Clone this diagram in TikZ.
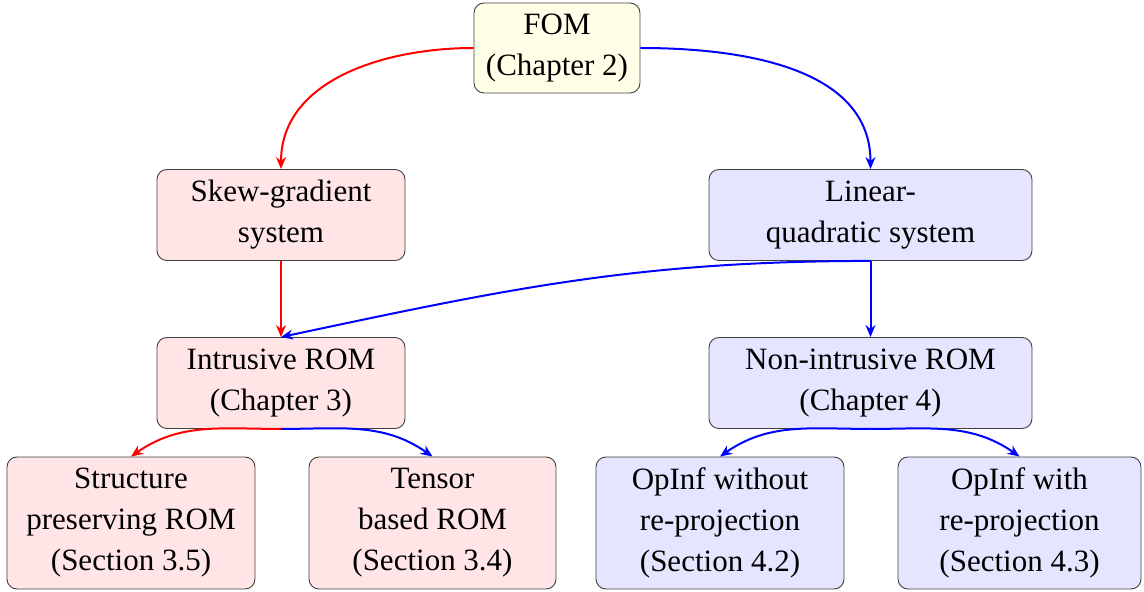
\documentclass[tikz,border=0pt]{standalone}
\usepackage{fontspec}
\setmainfont{LiberationSerif}[Extension=.ttf, UprightFont=*-Regular, BoldFont=*-Bold]
\usetikzlibrary{arrows.meta}
\begin{document}
\begin{tikzpicture}[x=1pt,y=1pt,
  box/.style={draw=black!75, line width=0.9pt, rounded corners=10pt, align=center,
    inner sep=0pt, font=\fontsize{31}{41}\selectfont},
  fomb/.style={box, fill=yellow!10},
  redb/.style={box, fill=red!10},
  blueb/.style={box, fill=blue!10},
  conn/.style={line width=2pt, -{Stealth[length=12pt,width=10pt]}},
  rc/.style={conn, red},
  bc/.style={conn, blue}]
\useasboundingbox (0,0) rectangle (1144,592);
\node[fomb, minimum width=166pt, minimum height=90pt] (fom) at (557,544) {FOM\\(Chapter 2)};
\node[redb, minimum width=248pt, minimum height=91pt] (skew) at (281,377) {Skew-gradient\\system};
\node[blueb, minimum width=323pt, minimum height=91pt] (linq) at (870.5,377) {Linear-\\quadratic system};
\node[redb, minimum width=248pt, minimum height=91pt] (intr) at (281,209) {Intrusive ROM\\(Chapter 3)};
\node[blueb, minimum width=323pt, minimum height=91pt] (nonint) at (870.5,209) {Non-intrusive ROM\\(Chapter 4)};
\node[redb, minimum width=248pt, minimum height=132pt] (sp) at (131,69) {Structure\\preserving ROM\\(Section 3.5)};
\node[redb, minimum width=247pt, minimum height=132pt] (tb) at (432.5,69) {Tensor\\based ROM\\(Section 3.4)};
\node[blueb, minimum width=248pt, minimum height=132pt] (ow) at (720,69) {OpInf without\\re-projection\\(Section 4.2)};
\node[blueb, minimum width=243pt, minimum height=132pt] (owr) at (1019.5,69) {OpInf with\\re-projection\\(Section 4.3)};
\draw[rc] (fom.west) to[out=180,in=90] (skew.north);
\draw[bc] (fom.east) to[out=0,in=90] (linq.north);
\draw[rc] (skew.south) -- (intr.north);
\draw[bc] (linq.south) to[out=180,in=12] (intr.north);
\draw[bc] (linq.south) -- (nonint.north);
\draw[rc] (intr.south) to[out=180,in=35] (sp.north);
\draw[bc] (intr.south) to[out=0,in=145] (tb.north);
\draw[bc] (nonint.south) to[out=180,in=35] (ow.north);
\draw[bc] (nonint.south) to[out=0,in=145] (owr.north);
\end{tikzpicture}
\end{document}
